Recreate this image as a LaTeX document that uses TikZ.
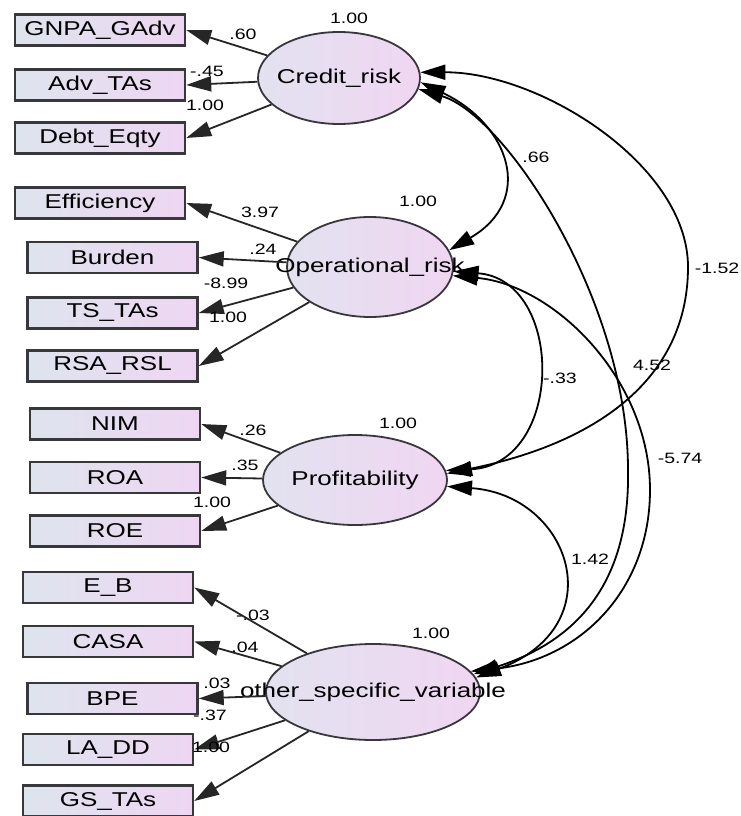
\documentclass[tikz,border=0pt]{standalone}
\usepackage{fontspec}
\setmainfont{Liberation Sans}[FakeStretch=1.3]
\usetikzlibrary{arrows.meta,shapes.geometric}
\definecolor{boxL}{RGB}{222,228,238}
\definecolor{boxR}{RGB}{238,214,242}
\definecolor{ellL}{RGB}{226,226,240}
\definecolor{ellR}{RGB}{240,214,242}
\definecolor{edgec}{RGB}{55,55,60}
\begin{document}
\begin{tikzpicture}[x=1pt,y=-1pt,
  obs/.style={draw=edgec, line width=2.4pt, left color=boxL, right color=boxR,
    minimum width=170pt, minimum height=31pt, inner sep=0pt,
    font=\fontsize{20}{24}\selectfont},
  lat/.style={ellipse, draw=edgec, line width=1.8pt, left color=ellL, right color=ellR, inner sep=0pt},
  lattxt/.style={font=\fontsize{20}{24}\selectfont, inner sep=0pt},
  num/.style={font=\fontsize{15}{18}\selectfont, inner sep=0pt},
  tip/.tip={Triangle[length=25pt,width=15pt]},
  load/.style={-tip, line width=1.8pt, draw=black!85},
  cov/.style={tip-tip, line width=1.8pt, draw=black}
]
\useasboundingbox (0,0) rectangle (740,816);
\fill[white] (0,0) rectangle (740,816);

% observed variables
\node[obs] (gnpa) at (100,30) {GNPA\_GAdv};
\node[obs] (adv)  at (100,85) {Adv\_TAs};
\node[obs] (debt) at (100,138) {Debt\_Eqty};
\node[obs] (eff)  at (100,203) {Efficiency};
\node[obs] (bur)  at (112.5,257.5) {Burden};
\node[obs] (ts)   at (112.5,313) {TS\_TAs};
\node[obs] (rsa)  at (112.5,366) {RSA\_RSL};
\node[obs] (nim)  at (115,424) {NIM};
\node[obs] (roa)  at (115,477.5) {ROA};
\node[obs] (roe)  at (115,531) {ROE};
\node[obs] (eb)   at (108,587.5) {E\_B};
\node[obs] (casa) at (108,641.5) {CASA};
\node[obs] (bpe)  at (112.5,698.5) {BPE};
\node[obs] (ladd) at (108,749.5) {LA\_DD};
\node[obs] (gs)   at (108,801) {GS\_TAs};

% latent variables
\node[lat, minimum width=162pt, minimum height=92pt,
  label={[lattxt]center:Credit\_risk}] (cr) at (339,78) {};
\node[lat, minimum width=166pt, minimum height=100pt,
  label={[lattxt]center:Operational\_risk}] (op) at (370,267) {};
\node[lat, minimum width=184pt, minimum height=90pt,
  label={[lattxt]center:Profitability}] (pr) at (355,480) {};
\node[lat, minimum width=214pt, minimum height=96pt,
  label={[lattxt]center:other\_specific\_variable}] (ot) at (373,692) {};

% loadings
\draw[load] (cr) -- (gnpa.east);
\draw[load] (cr) -- (adv.east);
\draw[load] (cr) -- (debt.east);
\draw[load] (op) -- (eff.east);
\draw[load] (op) -- (bur.east);
\draw[load] (op) -- (ts.east);
\draw[load] (op) -- (rsa.east);
\draw[load] (pr) -- (nim.east);
\draw[load] (pr) -- (roa.east);
\draw[load] (pr) -- (roe.east);
\draw[load] (ot) -- (eb.east);
\draw[load] (ot) -- (casa.east);
\draw[load] (ot) -- (bpe.east);
\draw[load] (ot) -- (ladd.east);
\draw[load] (ot) -- (gs.east);

% covariances
\draw[cov] (cr.-3) .. controls (510,125) and (535,200) .. (op.12);
\draw[cov] (cr.4) .. controls (540,72) and (688,165) .. (688,267)
  .. controls (688,370) and (610,440) .. (pr.4);
\draw[cov] (cr.-8) .. controls (505,115) and (628,300) .. (628,470)
  .. controls (630,580) and (580,640) .. (ot.10);
\draw[cov] (op.-3) .. controls (565,280) and (565,465) .. (pr.6);
\draw[cov] (op.-6) .. controls (555,285) and (650,380) .. (650,490)
  .. controls (650,590) and (580,660) .. (ot.12);
\draw[cov] (pr.-4) .. controls (570,495) and (615,625) .. (ot.8);

% variances
\node[num] at (349,18) {1.00};
\node[num] at (418,201) {1.00};
\node[num] at (398,423) {1.00};
\node[num] at (431,633) {1.00};

% loading estimates
\node[num] at (243,34) {.60};
\node[num] at (207,71) {-.45};
\node[num] at (205,105) {1.00};
\node[num] at (260,212) {3.97};
\node[num] at (263,249) {.24};
\node[num] at (226,283) {-8.99};
\node[num] at (228,317) {1.00};
\node[num] at (253,430) {.26};
\node[num] at (245,465) {.35};
\node[num] at (212,502) {1.00};
\node[num] at (253,615) {-.03};
\node[num] at (245,647) {.04};
\node[num] at (217,683) {.03};
\node[num] at (210,715) {-.37};
\node[num] at (211,747) {1.00};

% covariance estimates
\node[num] at (536,157) {.66};
\node[num] at (717,268) {-1.52};
\node[num] at (560,378) {-.33};
\node[num] at (652,365) {4.52};
\node[num] at (680,458) {-5.74};
\node[num] at (590,559) {1.42};
\end{tikzpicture}
\end{document}
